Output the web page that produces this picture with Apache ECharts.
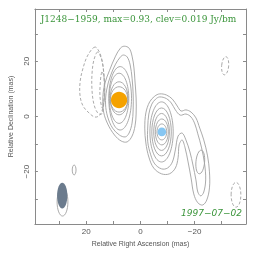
<!DOCTYPE html>
<html>
<head>
<meta charset="utf-8">
<script src="https://cdn.jsdelivr.net/npm/echarts@6/dist/echarts.min.js"></script>
<style>html,body{margin:0;padding:0;background:#fff}#c{width:264px;height:262px}</style>
</head>
<body>
<div id="c"></div>
<script>
// ---- data (relative RA, relative Dec in mas) ----
const xTickLabels = [20, 0, -20];
const yTickLabels = [-20, 0, 20];
const minorTicks = [-30, -20, -10, 0, 10, 20, 30];

// outer solid contours around the core (polylines, mas)
const coreOuter1 = [[6.0,25.5],[4.2,24.8],[3.1,21.9],[2.4,17.6],[2.0,12.5],[1.6,6.7],[1.6,0.9],[2.0,-3.4],[3.1,-7.1],[4.9,-9.2],[7.1,-8.9],[9.6,-6.7],[12.1,-2.7],[13.6,1.6],[13.9,6.7],[13.2,11.8],[11.4,16.8],[9.2,21.9],[7.4,24.8]];
const coreOuter2 = [[6.3,22.3],[4.9,21.6],[3.8,18.7],[3.1,13.9],[2.7,8.2],[2.7,2.4],[3.1,-2.4],[4.2,-6.0],[5.6,-7.4],[7.8,-6.7],[10.3,-4.2],[12.1,-0.2],[12.9,4.5],[12.5,9.6],[11.1,14.7],[9.2,19.0],[7.4,21.6]];
// outer solid contours around the jet component and its extension
const jetOuter1 = [[-7.1,8.2],[-9.6,7.8],[-11.8,6.3],[-13.6,3.8],[-15.0,2.0],[-16.8,2.4],[-18.7,1.6],[-20.5,-0.5],[-21.9,-4.2],[-23.4,-8.5],[-24.8,-14.3],[-25.5,-20.1],[-25.5,-25.9],[-24.5,-30.3],[-23.0,-32.1],[-21.2,-31.3],[-19.7,-28.1],[-18.7,-22.3],[-17.6,-16.5],[-16.5,-11.4],[-15.4,-8.5],[-14.3,-10.3],[-13.9,-15.0],[-12.9,-18.7],[-10.7,-20.8],[-7.8,-20.8],[-4.9,-18.7],[-3.1,-14.7],[-2.0,-9.6],[-1.6,-4.2],[-2.0,1.3],[-3.4,5.3],[-5.3,7.4]];
const jetOuter2 = [[-7.1,7.1],[-9.6,6.5],[-11.4,4.9],[-12.9,2.4],[-14.7,0.5],[-16.8,0.9],[-18.7,-0.2],[-20.1,-2.7],[-21.2,-6.3],[-22.6,-11.4],[-23.7,-17.2],[-24.1,-23.0],[-23.4,-27.4],[-22.3,-28.8],[-21.2,-27.4],[-20.5,-23.0],[-19.4,-17.6],[-18.3,-12.9],[-16.8,-8.5],[-15.4,-6.0],[-13.9,-7.1],[-12.9,-12.1],[-11.8,-16.5],[-10.0,-18.7],[-7.8,-19.0],[-5.3,-17.2],[-3.8,-13.9],[-2.7,-9.2],[-2.7,-3.8],[-3.1,0.9],[-4.2,4.5],[-5.6,6.3]];
// negative (dashed) contours east of the core
const negPoly1 = [[16.8,25.2],[19.4,22.3],[21.2,17.6],[22.3,12.5],[22.3,7.4],[21.2,3.8],[19.0,1.3],[16.8,-0.2],[15.0,0.5],[13.9,3.1],[13.4,7.8],[13.4,13.2],[13.9,18.7],[15.0,23.0]];
const negPoly2 = [[15.8,23.4],[17.2,20.5],[17.9,15.4],[17.9,9.6],[17.2,4.5],[15.8,1.3],[14.3,0.9],[13.6,4.2],[13.2,9.6],[13.6,16.1],[14.3,20.5]];
const negPoly3 = [[14.3,16.1],[14.9,11.4],[14.9,6.7],[14.1,3.1],[13.4,6.0],[13.2,11.1],[13.6,15.0]];

// inner solid contours as ellipses: [ra, dec, semi-axis RA, semi-axis Dec, tilt deg]
const solidEllipses = [
  [7.5,6.6,4.2,11.5,0],[7.9,6.6,3.6,9.1,0],[7.9,6.6,3.3,6.0,0],[7.9,6.2,3.2,4.6,0],
  [-7.8,-5.6,4.3,10.9,0],[-7.8,-5.6,3.6,8.7,0],[-7.8,-5.6,2.9,6.7,0],[-7.9,-5.6,2.4,4.7,0],[-7.9,-5.6,1.8,2.9,0],
  [-22.1,-16.5,1.6,4.3,-5],
  [24.5,-19.4,0.7,1.8,0],
  [28.8,-31.0,2.0,5.1,0]
];
const dashedEllipses = [
  [-31.3,18.4,1.3,3.3,-5],
  [-35.3,-28.4,1.8,4.5,0]
];
// model components [ra, dec, radius]
const compCore = [[7.9,6.0,3.0,3.0,0]];
const compJet = [[-7.9,-5.6,1.6,1.6,0]];
// restoring beam [ra, dec, semi-axis RA, semi-axis Dec, tilt]
const beam = [[28.9,-28.7,1.9,4.7,0]];

const titleText = 'J1248\u22121959, max=0.93, clev=0.019 Jy/bm';
const dateText = '1997\u221207\u221202';

// ---- rendering ----
const LINE = '#a2a2a2';
function polySeries(polys, dashed){
  return {
    type:'custom', xAxisIndex:0, yAxisIndex:0, clip:true, silent:true,
    data: polys.map(p => p[0]),
    renderItem: function(params, api){
      const pts = polys[params.dataIndex].map(p => api.coord(p));
      return {type:'polygon', shape:{points:pts, smooth:0.35},
        style:{fill:'none', stroke:LINE, lineWidth:0.9, lineDash: dashed ? [3,2] : null}};
    }
  };
}
function ellipseSeries(rows, style){
  return {
    type:'custom', xAxisIndex:0, yAxisIndex:0, clip:true, silent:true,
    data: rows,
    renderItem: function(params, api){
      const c = api.coord([api.value(0), api.value(1)]);
      const s = api.size([api.value(2), api.value(3)]);
      return {type:'ellipse', x:c[0], y:c[1], rotation: api.value(4)*Math.PI/180,
        shape:{cx:0, cy:0, rx:Math.abs(s[0]), ry:Math.abs(s[1])},
        style: style};
    }
  };
}
const minus = v => String(v).replace('-', '\u2212');
const axisCommon = {
  type:'value', min:-39, max:39,
  splitLine:{show:false},
  axisLine:{show:true, onZero:false, lineStyle:{color:'#8a8a8a', width:1}},
  axisTick:{show:true, inside:true, length:3, customValues:minorTicks, lineStyle:{color:'#8a8a8a'}}
};
const chart = echarts.init(document.getElementById('c'), null, {renderer:'canvas'});
chart.setOption({
  animation:false,
  grid:{left:31, top:9, width:215, height:215},
  xAxis:[
    Object.assign({}, axisCommon, {position:'bottom', inverse:true,
      axisLabel:{customValues:xTickLabels, formatter:minus, fontSize:8, color:'#555', margin:4, fontFamily:'Liberation Sans'},
      name:'Relative Right Ascension (mas)', nameLocation:'middle', nameGap:17,
      nameTextStyle:{fontSize:7, color:'#555', fontFamily:'Liberation Sans'}}),
    Object.assign({}, axisCommon, {position:'top', inverse:true, axisLabel:{show:false}})
  ],
  yAxis:[
    Object.assign({}, axisCommon, {position:'left',
      axisLabel:{customValues:yTickLabels, formatter:minus, fontSize:8, color:'#555', margin:4, rotate:90, fontFamily:'Liberation Sans'},
      name:'Relative Declination (mas)', nameLocation:'middle', nameGap:15, nameRotate:90,
      nameTextStyle:{fontSize:7, color:'#555', fontFamily:'Liberation Sans'}}),
    Object.assign({}, axisCommon, {position:'right', axisLabel:{show:false}})
  ],
  series:[
    polySeries([coreOuter1, coreOuter2, jetOuter1, jetOuter2], false),
    polySeries([negPoly1, negPoly2, negPoly3], true),
    ellipseSeries(solidEllipses, {fill:'none', stroke:LINE, lineWidth:0.9}),
    ellipseSeries(dashedEllipses, {fill:'none', stroke:LINE, lineWidth:0.9, lineDash:[3,2]}),
    ellipseSeries(compCore, {fill:'#f5a200', stroke:'none'}),
    ellipseSeries(compJet, {fill:'#86c6f2', stroke:'none'}),
    ellipseSeries(beam, {fill:'#6b7b8d', stroke:'none'})
  ],
  graphic:[
    {type:'text', x:138.5, y:20, style:{text:titleText, fill:'#3b953b', font:'9px "DejaVu Serif"', textAlign:'center', textVerticalAlign:'middle'}},
    {type:'text', x:242, y:214, style:{text:dateText, fill:'#3b953b', font:'italic 9px "DejaVu Sans"', textAlign:'right', textVerticalAlign:'middle'}}
  ]
});
</script>
</body>
</html>
